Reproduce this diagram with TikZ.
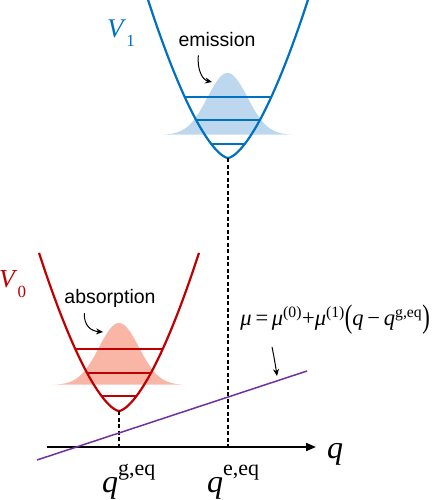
\documentclass[tikz,border=0pt]{standalone}
\usepackage{fontspec}
\setmainfont{Liberation Serif}
\setsansfont{Liberation Sans}
\usepackage{graphicx}
\usetikzlibrary{arrows.meta}

\definecolor{potred}{HTML}{C00000}
\definecolor{potblue}{HTML}{0070C0}
\definecolor{dipviolet}{HTML}{7030A0}
\definecolor{wavered}{HTML}{F9B5A6}
\definecolor{waveblue}{HTML}{BDD7EE}

% q with an upright superscript
\newcommand{\qeq}[1]{\textit{q}\raisebox{0.53em}{\fontsize{22}{22}\selectfont #1}}
% taller parenthesis
\newcommand{\tallpar}[1]{\raisebox{-0.12em}{\scalebox{1}[1.45]{#1}}}

\begin{document}
\begin{tikzpicture}[x=1pt, y=-1pt,
  pot/.style={line width=2.2pt, #1},
  level/.style={line width=1.1pt, #1},
  guide/.style={dash pattern=on 4pt off 2.5pt, line width=1.3pt},
  axis/.style={line width=2pt, -{Triangle[length=10pt, width=8pt]}},
  dip/.style={line width=1.5pt, dipviolet},
  note/.style={font=\fontsize{19.5}{20}\selectfont\sffamily, inner sep=0pt, anchor=base},
  lbl/.style={inner sep=0pt, anchor=base west},
  arr/.style={-{Stealth[length=7pt, width=6pt]}, line width=1pt}
]
  \useasboundingbox (0,0) rectangle (432,500);

  % --- V0 (ground state) ---
  \fill[wavered] plot[domain=-66:66, samples=90]
        ({119+\x},{385-62*exp(-((\x)*(\x))/800)}) -- cycle;
  \foreach \h in {15,38,62} {
    \pgfmathsetmacro\dx{(\h/0.1775)^0.645}
    \draw[level=potred] ({119-\dx},{411-\h}) -- ({119+\dx},{411-\h});
  }
  \draw[pot=potred] plot[domain=-80:80, samples=81]
        ({119+\x},{411-0.1775*(abs(\x)+0.001)^1.55});

  % --- V1 (excited state) ---
  \fill[waveblue] plot[domain=-66:66, samples=90]
        ({227.5+\x},{135-62*exp(-((\x)*(\x))/800)}) -- cycle;
  \foreach \h in {14,38,61} {
    \pgfmathsetmacro\dx{(\h/0.1775)^0.645}
    \draw[level=potblue] ({228-\dx},{158-\h}) -- ({228+\dx},{158-\h});
  }
  \draw[pot=potblue] plot[domain=-84:84, samples=85]
        ({228+\x},{158-0.1775*(abs(\x)+0.001)^1.55});

  % --- axis and guides ---
  \coordinate (ax0) at (47,447);
  \coordinate (ax1) at (316,447);
  \coordinate (gmin) at (119,411);
  \coordinate (gfoot) at (119,447);
  \coordinate (emin) at (228,158);
  \coordinate (efoot) at (228,447);
  \draw[guide] (gmin) -- (gfoot);
  \draw[guide] (emin) -- (efoot);
  \draw[axis] (ax0) -- (ax1);

  % --- dipole line ---
  \coordinate (mu0) at (37,460);
  \coordinate (mu1) at (307,371);
  \draw[dip] (mu0) -- (mu1);

  % --- labels ---
  \node[lbl, text=potred, font=\fontsize{26}{26}\selectfont] (vzero) at (-1,287)
        {\textit{V}\raisebox{-10pt}{\fontsize{17}{17}\selectfont 0}};
  \node[lbl, text=potblue, font=\fontsize{27}{27}\selectfont] (vone) at (107,38)
        {\textit{V}\raisebox{-9pt}{\fontsize{17}{17}\selectfont 1}};
  \node[note] (absn) at (110,303) {absorption};
  \node[note] (emin-lbl) at (217,47) {emission};
  \node[lbl, font=\fontsize{32}{32}\selectfont] (qg) at (102,492) {\qeq{g,eq}};
  \node[lbl, font=\fontsize{32}{32}\selectfont] (qe) at (207,492) {\qeq{e,eq}};
  \node[inner sep=0pt, anchor=base, font=\fontsize{32}{32}\selectfont] (qax) at (335,458) {\textit{q}};
  \node[inner sep=0pt, anchor=base east, font=\fontsize{22.5}{23}\selectfont] (mulbl) at (430,325)
        {\textit{μ}\,=\,\textit{μ}\textsuperscript{(0)}+\textit{μ}\textsuperscript{(1)}\tallpar{(}\textit{q}\,−\,\textit{q}\textsuperscript{g,eq}\tallpar{)}};

  % --- arrows ---
  \coordinate (abstip) at (103,332);
  \coordinate (emitip) at (212,82);
  \coordinate (mutip) at (277,376);
  \draw[arr] ([xshift=20pt, yshift=-6pt]absn.south west)
        .. controls (84,326) and (91,331) .. (abstip);
  \draw[arr] ([xshift=20pt, yshift=-8pt]emin-lbl.south west)
        .. controls (197,71) and (203,80) .. (emitip);
  \draw[arr] (mulbl.south west -| 272,0) ++(0pt,-12pt)
        .. controls (273,352) and (275,362) .. (mutip);
\end{tikzpicture}
\end{document}
